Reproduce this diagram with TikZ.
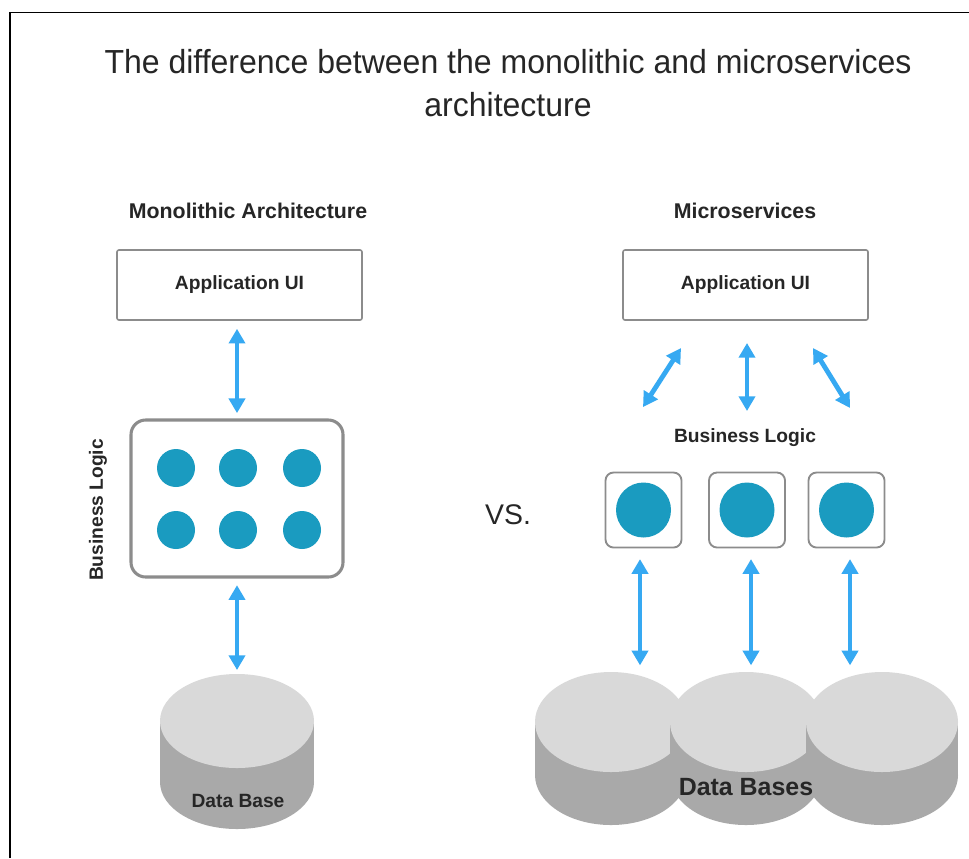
\documentclass[tikz,border=0pt]{standalone}
\usepackage{fontspec}
\setmainfont{Liberation Sans}
\usetikzlibrary{arrows.meta}

\definecolor{flow}{HTML}{36A9F2}
\definecolor{dotfill}{HTML}{1A9BC0}
\definecolor{boxline}{HTML}{8C8C8C}
\definecolor{dbtop}{HTML}{D9D9D9}
\definecolor{dbside}{HTML}{A9A9A9}
\definecolor{ink}{HTML}{262626}

\tikzset{
  heading/.style={font=\bfseries\fontsize{16}{19}\selectfont, text=ink},
  boxlabel/.style={font=\bfseries\fontsize{14.4}{17}\selectfont, text=ink},
  appbox/.style={draw=boxline, line width=1.2pt, rounded corners=1.5pt, fill=white,
    minimum width=245*0.75pt, minimum height=70*0.75pt, boxlabel},
  monobox/.style={draw=boxline, line width=2.3pt, rounded corners=11pt, fill=white,
    minimum width=212*0.75pt, minimum height=157*0.75pt},
  microbox/.style={draw=boxline, line width=1.4pt, rounded corners=6pt, fill=white,
    minimum width=76*0.75pt, minimum height=75*0.75pt},
  smalldot/.style={circle, fill=dotfill, inner sep=0pt, minimum size=38*0.75pt},
  bigdot/.style={circle, fill=dotfill, inner sep=0pt, minimum size=55*0.75pt},
  flowarrow/.style={draw=flow, line width=3.6pt,
    {Triangle[length=11pt,width=12pt]}-{Triangle[length=11pt,width=12pt]}},
}

% cylinder: #1 centre x, #2 top-ellipse centre y, #3 x radius, #4 y radius, #5 body height
\newcommand{\dbdrum}[5]{%
  \fill[dbside] (#1-#3,#2) rectangle (#1+#3,#2+#5);
  \fill[dbside] (#1,#2+#5) ellipse [x radius=#3, y radius=#4];
  \fill[dbtop] (#1,#2) ellipse [x radius=#3, y radius=#4];
}

\begin{document}
\begin{tikzpicture}[x=0.75pt,y=-0.75pt]
\useasboundingbox (0,0) rectangle (969,858);
\fill[white] (0,0) rectangle (969,858);

% frame lines
\draw[line width=1pt, black] (10,858) -- (10,12.5) -- (969,12.5);

% title
\node[font=\fontsize{25}{30}\selectfont, text=ink] (title1) at (508,62)
  {\scalebox{0.96}[1]{The difference between the monolithic and microservices}};
\node[font=\fontsize{25}{30}\selectfont, text=ink] (title2) at (508,105)
  {\scalebox{0.96}[1]{architecture}};

% ---------- monolithic side ----------
\node[heading] (monoHead) at (248,211) {Monolithic Architecture};
\node[appbox] (appL) at (239.5,285) {Application UI};
\node[monobox] (logicL) at (237,498.5) {};
\foreach \i/\x in {1/176,2/238,3/302}{
  \node[smalldot] (dotA\i) at (\x,468) {};
  \node[smalldot] (dotB\i) at (\x,530) {};
}
\node[boxlabel, rotate=90] (bizL) at (98,510) {Business Logic};

\dbdrum{237}{721}{77}{47}{61}
\node[boxlabel] (dbL) at (238,801) {Data Base};
\coordinate (dbLtop) at (237,674);

\draw[flowarrow, shorten <=6pt, shorten >=4pt] (appL.south -| logicL.north) -- (logicL.north);
\draw[flowarrow, shorten <=5pt, shorten >=3pt] (logicL.south) -- (dbLtop);

% ---------- microservices side ----------
\node[heading] (microHead) at (745,211) {Microservices};
\node[appbox] (appR) at (745.5,285) {Application UI};

\node[font=\fontsize{21.3}{25}\selectfont, text=ink] (vs) at (508,515) {VS.};

\node[boxlabel] (bizR) at (745,438) {Business Logic};

\node[microbox] (mb1) at (643.5,510) {};
\node[microbox] (mb2) at (747,510) {};
\node[microbox] (mb3) at (846.5,510) {};
\node[bigdot] (md1) at (mb1) {};
\node[bigdot] (md2) at (mb2) {};
\node[bigdot] (md3) at (mb3) {};

% arrow ends between the UI and the services
\coordinate (uaL) at (681,348);
\coordinate (ubL) at (643,407);
\coordinate (uaM) at (747,343);
\coordinate (ubM) at (747,411);
\coordinate (uaR) at (813,348);
\coordinate (ubR) at (850,408);
\draw[flowarrow] (uaL) -- (ubL);
\draw[flowarrow] (uaM) -- (ubM);
\draw[flowarrow] (uaR) -- (ubR);

\dbdrum{611}{722}{76}{50}{53}
\dbdrum{746}{722}{76}{50}{53}
\dbdrum{882}{722}{76}{50}{53}
\node[font=\bfseries\fontsize{18.7}{22}\selectfont, text=ink] (dbR) at (746,787) {Data Bases};

\coordinate (db1top) at (640,672);
\coordinate (db2top) at (751,672);
\coordinate (db3top) at (850,672);
\draw[flowarrow, shorten <=8pt, shorten >=5pt] (mb1.south -| db1top) -- (db1top);
\draw[flowarrow, shorten <=8pt, shorten >=5pt] (mb2.south -| db2top) -- (db2top);
\draw[flowarrow, shorten <=8pt, shorten >=5pt] (mb3.south -| db3top) -- (db3top);
\end{tikzpicture}
\end{document}
